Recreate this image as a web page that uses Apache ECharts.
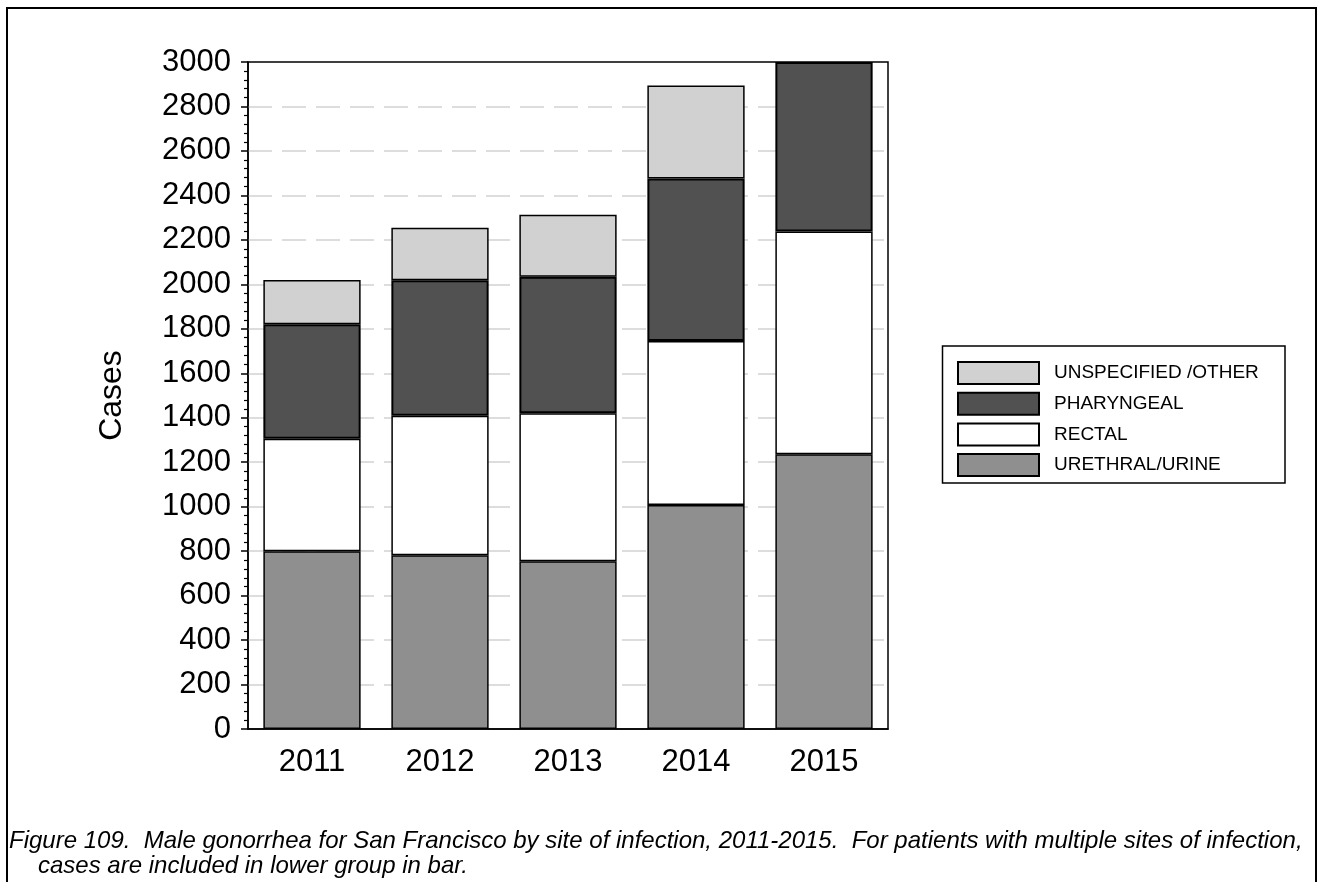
<!DOCTYPE html>
<html>
<head>
<meta charset="utf-8">
<script src="https://cdn.jsdelivr.net/npm/echarts@6/dist/echarts.min.js"></script>
<style>
html,body{margin:0;padding:0;background:#fff;}
#chart{width:1319px;height:882px;}
</style>
</head>
<body>
<div id="chart"></div>
<script>
const years = ['2011', '2012', '2013', '2014', '2015'];
const urethral = [800, 782, 754, 1008, 1236];
const rectal = [505, 627, 666, 737, 1002];
const pharyngeal = [516, 609, 614, 731, 762];
const unspecified = [199, 237, 279, 418, null];
const seriesNames = ['URETHRAL/URINE', 'RECTAL', 'PHARYNGEAL', 'UNSPECIFIED /OTHER'];
const seriesColors = ['#8f8f8f', '#ffffff', '#515151', '#d1d1d1'];
const legendOrder = ['UNSPECIFIED /OTHER', 'PHARYNGEAL', 'RECTAL', 'URETHRAL/URINE'];
const captionLine1 = 'Figure 109.  Male gonorrhea for San Francisco by site of infection, 2011-2015.  For patients with multiple sites of infection,';
const captionLine2 = 'cases are included in lower group in bar.';

const sans = '"Liberation Sans", Arial, sans-serif';

const chart = echarts.init(document.getElementById('chart'), null, {renderer: 'canvas'});
const dataSets = [urethral, rectal, pharyngeal, unspecified];

const option = {
  animation: false,
  backgroundColor: '#ffffff',
  grid: {
    left: 248, top: 62, width: 640, height: 667,
    show: true, borderColor: '#000', borderWidth: 1.5, backgroundColor: 'transparent'
  },
  xAxis: {
    type: 'category',
    data: years,
    axisLine: {lineStyle: {color: '#000', width: 1.5}},
    axisTick: {show: false},
    axisLabel: {color: '#000', fontFamily: sans, fontSize: 31, margin: 18}
  },
  yAxis: {
    type: 'value',
    min: 0, max: 3000, interval: 200,
    name: 'Cases',
    nameLocation: 'middle',
    nameGap: 120,
    nameTextStyle: {color: '#000', fontFamily: sans, fontSize: 32},
    axisLine: {show: true, lineStyle: {color: '#000', width: 1.5}},
    axisTick: {show: true, inside: false, length: 7, lineStyle: {color: '#000', width: 1.5}},
    minorTick: {show: true, splitNumber: 5, length: 4, lineStyle: {color: '#000', width: 1.2}},
    axisLabel: {color: '#000', fontFamily: sans, fontSize: 31, margin: 17, formatter: (v) => String(v)},
    splitLine: {show: true, showMaxLine: false, showMinLine: false, lineStyle: {color: '#dddddd', width: 2, type: [24, 10]}}
  },
  legend: {
    show: true,
    left: 957, top: 361,
    orient: 'vertical',
    data: legendOrder,
    icon: 'rect',
    itemWidth: 81, itemHeight: 22, itemGap: 6.7,
    padding: 0,
    selectedMode: false,
    textStyle: {color: '#000', fontFamily: sans, fontSize: 19, padding: [0, 0, 0, 10]}
  },
  graphic: [
    {type: 'rect', shape: {x: 7, y: 8, width: 1309, height: 900}, style: {fill: 'none', stroke: '#000', lineWidth: 2}, silent: true, z: 100},
    {type: 'rect', shape: {x: 942.5, y: 346, width: 342.5, height: 137}, style: {fill: 'none', stroke: '#000', lineWidth: 1.5}, silent: true, z: 100},
    {type: 'text', left: 9, top: 829, style: {text: captionLine1, fontFamily: sans, fontStyle: 'italic', fontSize: 24, fill: '#000'}, silent: true},
    {type: 'text', left: 38, top: 854, style: {text: captionLine2, fontFamily: sans, fontStyle: 'italic', fontSize: 24, fill: '#000'}, silent: true}
  ],
  series: seriesNames.map((name, i) => ({
    name: name,
    type: 'bar',
    stack: 'total',
    barWidth: '76%',
    data: dataSets[i],
    itemStyle: {color: seriesColors[i], borderColor: '#000', borderWidth: i === 2 ? 2 : 1.5},
    emphasis: {disabled: true}
  }))
};
chart.setOption(option);
</script>
</body>
</html>
